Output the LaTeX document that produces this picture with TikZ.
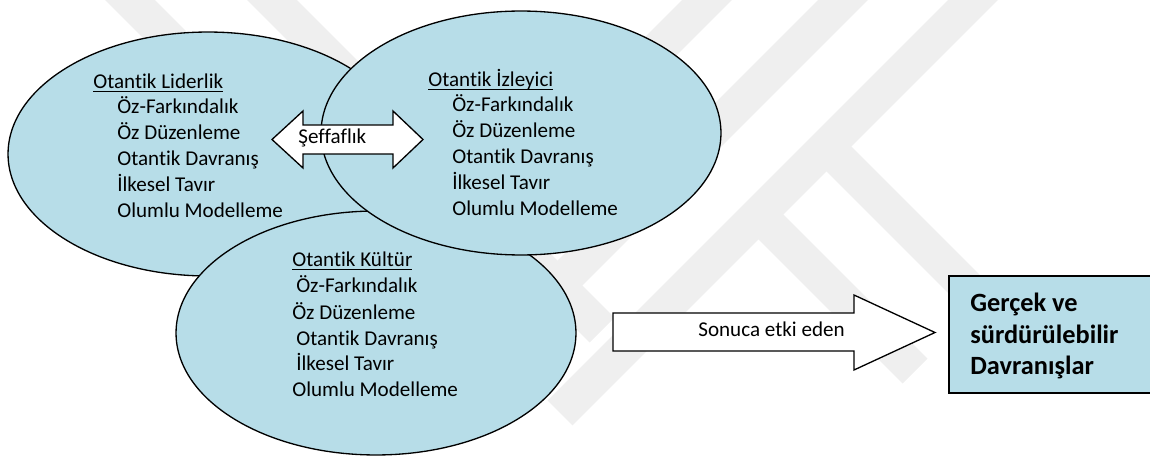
\documentclass[tikz,border=0pt]{standalone}
\usepackage{fontspec}
\setmainfont{Carlito}[Ligatures={NoCommon}]
\usetikzlibrary{shapes.geometric}
\definecolor{bubblefill}{RGB}{183,221,232}
\definecolor{faint}{RGB}{239,239,239}
\newsavebox{\ulbox}
% underline drawn at a fixed depth so descenders do not push it down
\newcommand{\ulined}[1]{\sbox{\ulbox}{#1}\rlap{\rule[-1.7pt]{\wd\ulbox}{0.8pt}}\usebox{\ulbox}}

\begin{document}
\begin{tikzpicture}[x=0.02cm,y=-0.02cm,
  bubble/.style={ellipse, draw=black, line width=0.75pt, fill=bubblefill,
    minimum width=8cm, minimum height=4.88cm, inner sep=0pt},
  lbl/.style={anchor=base west, inner sep=0pt, font=\fontsize{12}{14.5}\selectfont},
  goaltxt/.style={anchor=base west, inner sep=0pt, font=\fontsize{15}{18}\selectfont\bfseries},
  blockarrow/.style={draw=black, line width=0.75pt, fill=white, line join=miter},
  goalbox/.style={draw=black, line width=0.9pt, fill=bubblefill, anchor=north west,
    minimum width=5cm, minimum height=2.34cm, inner sep=0pt},
  band/.style={draw=faint, line width=20pt, line cap=butt}]
\useasboundingbox (0,0) rectangle (1150,459);
\clip (0,0) rectangle (1150,459);

% light background emblem: diagonal strips
\draw[band] (110,-20) -- (230,100);
\draw[band] (252,-20) -- (602,330);
\draw[band] (727,-20) -- (600,107);
\draw[band] (863,-20) -- (530,313);
\draw[band] (993,-20) -- (560,413);
\draw[band] (820,140) -- (975,295);
\draw[band] (750,206) -- (915,371);

% the three overlapping components
\node[bubble] (lider) at (208,154) {};
\node[bubble] (kultur) at (376,333) {};
\node[bubble] (izleyici) at (521,133) {};

% Otantik Liderlik
\node[lbl] (liderH) at (93,89) {\ulined{Otantik Liderlik}};
\foreach \t [count=\i] in {Öz-Farkındalık, Öz Düzenleme, Otantik Davranış, İlkesel Tavır, Olumlu Modelleme}
  \node[lbl] (lider-\i) at (117,{114+26*(\i-1)}) {\t};

% Otantik Izleyici
\node[lbl] (izleyiciH) at (428,87) {\ulined{Otantik İzleyici}};
\foreach \t [count=\i] in {Öz-Farkındalık, Öz Düzenleme, Otantik Davranış, İlkesel Tavır, Olumlu Modelleme}
  \node[lbl] (izleyici-\i) at (452,{112+25.8*(\i-1)}) {\t};

% Otantik Kultur
\node[lbl] (kulturH) at (292,267) {\ulined{Otantik Kültür}};
\foreach \dx/\t [count=\i] in {4/Öz-Farkındalık, 0/Öz Düzenleme, 4/Otantik Davranış, 4/İlkesel Tavır, 0/Olumlu Modelleme}
  \node[lbl] (kultur-\i) at ({292+\dx},{293+26*(\i-1)}) {\t};

% two-way block arrow between leadership and followers
\path[blockarrow] (272,139.5) -- (303,111) -- (303,125) -- (393,125) -- (393,111)
  -- (423,139.5) -- (393,168) -- (393,154) -- (303,154) -- (303,168) -- cycle;
\node[lbl] (seffaf) at (298,144) {Şeffaflık};

% outcome box, running off the right edge
\node[goalbox] (goal) at (948,275) {};
\node[goaltxt] (goal-1) at (970,312) {Gerçek ve};
\node[goaltxt] (goal-2) at (970,343.5) {sürdürülebilir};
\node[goaltxt] (goal-3) at (970,375) {Davranışlar};

% one-way block arrow towards the outcome
\path[blockarrow] (613,313) -- (854,313) -- (854,295) -- (935,332.5)
  -- (854,370) -- (854,351) -- (613,351) -- cycle;
\node[lbl] (sonuc) at (698,337) {Sonuca etki eden};
\end{tikzpicture}
\end{document}
